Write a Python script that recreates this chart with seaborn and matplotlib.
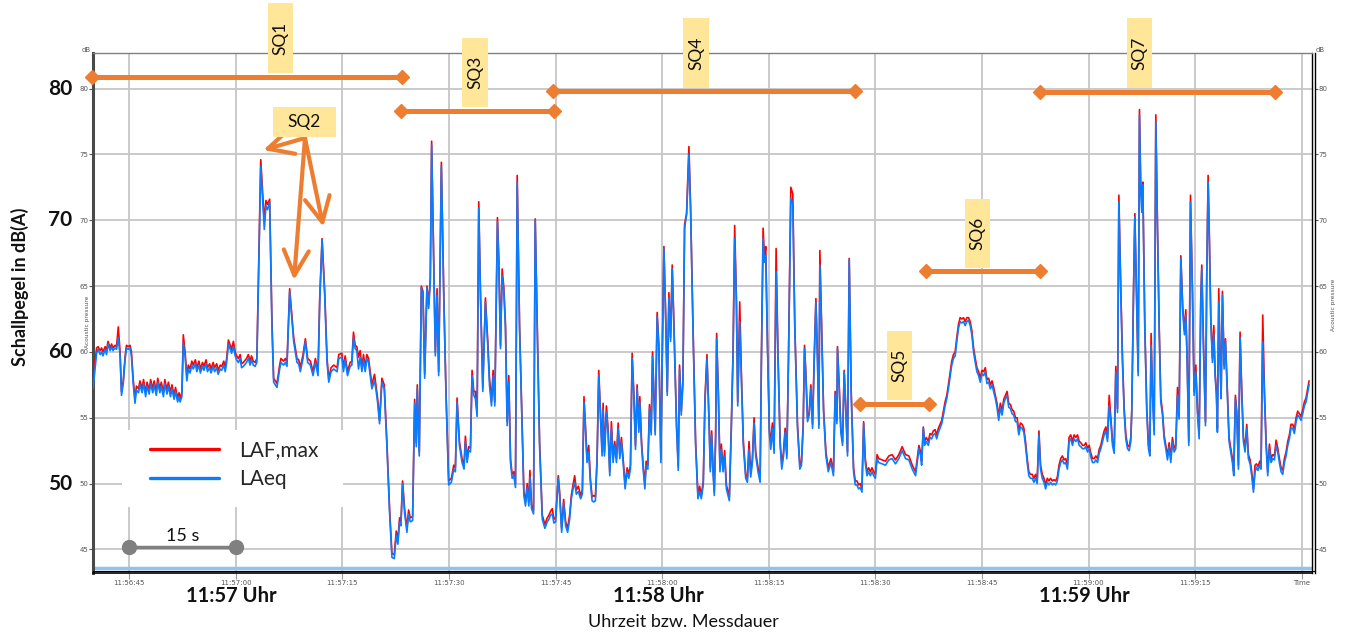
import matplotlib
matplotlib.use("Agg")
import matplotlib.pyplot as plt
import seaborn as sns
import pandas as pd
from matplotlib.lines import Line2D
from matplotlib.patches import Rectangle, FancyArrowPatch

# ---------------- data (seconds after 11:56:45) ----------------
seconds = [
    -5.1, -4.6, -4.4, -4.1, -3.9, -3.7, -3.4, -3.2,
    -3.0, -2.7, -2.5, -2.3, -2.0, -1.8, -1.55, -1.3,
    -1.1, -0.85, -0.6, -0.4, -0.15, 0.1, 0.3, 0.55,
    0.8, 1.0, 1.3, 1.5, 1.8, 2.0, 2.3, 2.5,
    2.8, 3.0, 3.3, 3.5, 3.8, 4.0, 4.3, 4.5,
    4.8, 5.0, 5.3, 5.5, 5.8, 6.0, 6.3, 6.5,
    6.8, 7.0, 7.15, 7.4, 7.6, 7.85, 8.1, 8.3,
    8.55, 8.8, 9.0, 9.3, 9.5, 9.8, 10.0, 10.3,
    10.5, 10.8, 11.0, 11.3, 11.5, 11.8, 12.0, 12.3,
    12.5, 12.8, 13.0, 13.3, 13.5, 13.7, 13.95, 14.2,
    14.4, 14.65, 14.9, 15.1, 15.35, 15.6, 15.8, 16.05,
    16.5, 16.75, 17.0, 17.2, 17.45, 17.7, 17.95, 18.5,
    19.0, 19.23, 19.46, 19.75, 20.07, 20.31, 20.78, 21.16,
    21.34, 21.72, 21.96, 22.19, 22.57, 23.13, 23.6, 23.84,
    24.07, 24.45, 24.78, 25.1, 25.48, 25.86, 26.19, 26.56,
    26.8, 27.13, 27.5, 27.83, 28.07, 28.4, 28.77, 29.24,
    29.48, 29.91, 30.14, 30.38, 30.71, 31.08, 31.32, 31.55,
    31.79, 32.02, 32.26, 32.49, 32.73, 32.96, 33.2, 33.43,
    33.67, 33.9, 34.14, 34.51, 34.7, 34.94, 35.22, 35.55,
    35.88, 36.25, 36.63, 36.96, 37.29, 37.57, 37.8, 38.04,
    38.23, 38.46, 38.74, 39.07, 39.31, 39.54, 39.87, 40.16,
    40.39, 40.53, 40.81, 41.1, 41.33, 41.57, 41.89, 42.13,
    42.36, 42.55, 42.84, 43.07, 43.31, 43.54, 43.92, 44.25,
    44.57, 44.95, 45.33, 45.66, 45.89, 46.13, 46.46, 46.83,
    47.11, 47.3, 47.54, 47.77, 48.01, 48.24, 48.48, 48.71,
    48.95, 49.18, 49.42, 49.75, 50.12, 50.45, 50.69, 50.97,
    51.2, 51.44, 51.81, 52.0, 52.24, 52.47, 52.71, 52.94,
    53.18, 53.41, 53.65, 53.88, 54.12, 54.35, 54.59, 54.92,
    55.29, 55.53, 55.76, 56.0, 56.23, 56.38, 56.61, 56.89,
    57.13, 57.41, 57.74, 58.12, 58.49, 58.82, 59.06, 59.29,
    59.53, 59.76, 60.0, 60.37, 60.56, 60.85, 61.13, 61.41,
    61.69, 61.97, 62.21, 62.45, 62.68, 62.91, 63.2, 63.52,
    63.76, 63.99, 64.19, 64.42, 64.66, 64.89, 65.13, 65.36,
    65.6, 65.83, 66.07, 66.3, 66.54, 66.68, 66.87, 67.15,
    67.38, 67.62, 67.85, 68.09, 68.32, 68.56, 68.8, 69.03,
    69.26, 69.5, 69.78, 70.06, 70.3, 70.53, 70.77, 71.0,
    71.24, 71.47, 71.71, 71.85, 72.09, 72.32, 72.56, 72.74,
    72.98, 73.21, 73.45, 73.64, 73.82, 74.01, 74.29, 74.53,
    74.81, 75.0, 75.24, 75.52, 75.71, 75.94, 76.18, 76.41,
    76.65, 77.02, 77.26, 77.44, 77.68, 77.91, 78.15, 78.43,
    78.76, 79.0, 79.33, 79.7, 80.03, 80.27, 80.5, 80.78,
    81.02, 81.3, 81.58, 81.77, 81.96, 82.15, 82.33, 82.52,
    82.66, 82.9, 83.13, 83.32, 83.56, 83.79, 84.03, 84.26,
    84.45, 84.73, 84.97, 85.2, 85.44, 85.63, 85.91, 86.14,
    86.42, 86.75, 86.99, 87.22, 87.46, 87.69, 87.93, 88.16,
    88.49, 88.78, 88.96, 89.2, 89.39, 89.57, 89.81, 90.09,
    90.28, 90.51, 90.75, 91.03, 91.31, 91.6, 91.83, 92.07,
    92.3, 92.54, 92.77, 93.1, 93.38, 93.66, 94.04, 94.37,
    94.6, 94.84, 95.03, 95.22, 95.45, 95.69, 95.92, 96.16,
    96.39, 96.63, 96.86, 97.05, 97.19, 97.43, 97.71, 98.04,
    98.37, 98.74, 99.1, 99.34, 99.58, 99.67, 99.91, 100.14,
    100.38, 100.61, 100.85, 101.08, 101.32, 101.6, 101.93, 102.17,
    102.41, 102.64, 102.88, 103.11, 103.35, 103.58, 103.82, 104.06,
    104.29, 104.53, 104.76, 105.0, 105.24, 105.47, 105.94, 106.42,
    106.89, 107.36, 107.83, 108.3, 108.77, 109.25, 109.72, 110.19,
    110.66, 111.13, 111.37, 111.51, 111.75, 111.93, 112.17, 112.45,
    112.69, 112.92, 113.16, 113.4, 113.63, 113.87, 114.1, 114.34,
    114.58, 114.81, 115.05, 115.28, 115.52, 115.75, 115.99, 116.23,
    116.46, 116.7, 116.93, 117.17, 117.41, 117.64, 117.88, 118.11,
    118.35, 118.58, 118.82, 119.06, 119.29, 119.53, 119.76, 120.0,
    120.24, 120.47, 120.71, 120.94, 121.18, 121.42, 121.65, 121.89,
    122.12, 122.36, 122.59, 122.83, 123.07, 123.3, 123.54, 123.77,
    124.01, 124.25, 124.48, 124.72, 124.95, 125.19, 125.42, 125.66,
    125.9, 126.13, 126.37, 126.6, 126.84, 127.08, 127.31, 127.55,
    127.78, 128.02, 128.25, 128.49, 128.73, 128.96, 129.2, 129.43,
    129.67, 129.91, 130.14, 130.38, 130.61, 130.85, 131.08, 131.32,
    131.56, 131.79, 132.03, 132.26, 132.5, 132.74, 132.97, 133.21,
    133.45, 133.69, 133.92, 134.16, 134.39, 134.62, 134.86, 135.09,
    135.33, 135.56, 135.8, 136.03, 136.27, 136.5, 136.73, 136.97,
    137.2, 137.44, 137.67, 137.91, 138.14, 138.38, 138.61, 138.84,
    139.08, 139.27, 139.55, 139.78, 140.02, 140.25, 140.49, 140.72,
    140.95, 141.09, 141.33, 141.52, 141.75, 141.99, 142.17, 142.36,
    142.5, 142.64, 142.92, 143.2, 143.44, 143.63, 143.81, 144.0,
    144.24, 144.47, 144.7, 144.94, 145.17, 145.41, 145.64, 145.88,
    146.11, 146.35, 146.58, 146.81, 147.05, 147.28, 147.52, 147.75,
    147.99, 148.27, 148.5, 148.69, 148.88, 149.11, 149.35, 149.63,
    149.86, 150.1, 150.33, 150.57, 150.8, 150.94, 151.17, 151.46,
    151.64, 151.83, 152.02, 152.21, 152.44, 152.63, 152.82, 153.0,
    153.14, 153.33, 153.52, 153.66, 153.85, 154.08, 154.27, 154.55,
    154.78, 155.02, 155.25, 155.44, 155.67, 155.86, 156.1, 156.33,
    156.57, 156.8, 157.03, 157.27, 157.5, 157.74, 157.97, 158.21,
    158.44, 158.63, 158.86, 159.1, 159.28, 159.52, 159.76, 159.99,
    160.22, 160.46, 160.69, 160.93, 161.16, 161.4, 161.63, 161.86,
    162.1, 162.33, 162.57, 162.8, 163.04, 163.27, 163.5, 163.74,
    163.97, 164.21, 164.44, 164.68, 164.91, 165.14, 165.38, 165.61,
    165.85, 166.04,
]

laeq = [
    57.2, 59.9, 60.2, 59.8, 60.0, 59.7, 60.2, 59.8,
    60.6, 60.1, 60.4, 60.1, 60.3, 60.2, 61.1, 59.7,
    56.7, 57.6, 59.4, 60.3, 60.2, 60.3, 59.7, 57.6,
    56.1, 57.1, 56.9, 57.5, 56.9, 57.6, 56.6, 57.4,
    56.8, 57.6, 56.9, 57.5, 56.7, 57.7, 56.9, 57.4,
    56.6, 57.6, 56.8, 57.4, 56.6, 57.2, 56.4, 57.0,
    56.2, 56.6, 56.2, 56.6, 60.7, 59.7, 57.8, 58.7,
    58.4, 59.0, 58.7, 59.1, 58.5, 59.0, 58.4, 58.9,
    58.6, 59.1, 58.5, 58.8, 58.4, 58.9, 58.5, 58.8,
    58.3, 58.7, 58.6, 59.0, 58.5, 59.2, 60.6, 60.2,
    59.9, 60.4, 59.7, 59.4, 59.2, 59.5, 58.8, 58.9,
    59.2, 59.5, 59.0, 59.4, 59.0, 58.9, 59.2, 74.1,
    69.3, 71.1, 70.8, 71.4, 62.0, 57.7, 57.3, 58.7,
    59.2, 59.0, 59.2, 58.9, 64.6, 60.8, 59.2, 59.1,
    58.5, 59.5, 60.8, 59.2, 59.0, 58.2, 59.2, 58.2,
    63.8, 68.5, 64.3, 59.2, 57.7, 58.5, 58.7, 58.5,
    59.5, 59.6, 58.5, 59.4, 58.2, 58.9, 59.0, 61.1,
    60.25, 60.1, 58.7, 59.6, 58.5, 59.4, 58.5, 59.5,
    59.2, 58.2, 57.2, 57.8, 57.2, 56.2, 54.55, 57.7,
    57.2, 52.9, 47.8, 44.4, 44.3, 46.1, 45.4, 47.1,
    46.8, 50.0, 47.8, 46.3, 47.7, 47.1, 47.2, 56.1,
    52.8, 57.2, 52.1, 64.9, 64.3, 58.0, 64.9, 63.3,
    65.3, 75.7, 66.8, 59.7, 64.3, 58.2, 74.1, 64.3,
    56.7, 49.9, 50.1, 51.1, 50.9, 56.2, 52.9, 51.6,
    51.1, 53.2, 51.6, 52.5, 52.4, 58.2, 56.7, 56.45,
    55.1, 70.9, 64.3, 57.0, 63.8, 60.5, 57.5, 55.9,
    58.2, 55.9, 69.9, 66.8, 60.25, 65.8, 64.6, 61.8,
    54.4, 57.7, 51.6, 50.4, 50.6, 49.7, 72.9, 61.8,
    54.2, 49.1, 48.3, 49.7, 48.3, 50.5, 48.1, 47.7,
    70.0, 61.8, 52.9, 47.3, 46.6, 47.1, 47.3, 47.6,
    47.7, 47.0, 47.1, 50.4, 49.1, 46.3, 48.5, 46.8,
    46.3, 47.3, 48.85, 49.6, 50.1, 49.2, 49.4, 48.85,
    49.2, 56.2, 54.2, 51.6, 52.4, 50.1, 48.7, 48.6,
    48.7, 51.6, 58.2, 55.2, 52.1, 55.6, 52.1, 55.4,
    53.9, 50.6, 54.2, 51.6, 52.9, 51.6, 54.2, 51.9,
    53.2, 51.6, 49.6, 50.9, 50.4, 51.1, 59.5, 56.7,
    52.6, 57.2, 53.9, 56.2, 52.9, 51.1, 49.6, 51.4,
    51.1, 55.7, 53.7, 59.7, 56.7, 53.7, 62.7, 60.25,
    51.6, 59.2, 67.85, 61.8, 56.7, 64.1, 60.8, 66.3,
    61.8, 54.2, 51.0, 58.7, 55.2, 57.5, 69.4, 70.4,
    75.0, 70.6, 61.8, 52.9, 48.85, 49.4, 48.85, 49.9,
    56.2, 59.5, 54.8, 50.9, 53.7, 50.9, 49.1, 53.4,
    61.0, 56.7, 50.9, 52.6, 50.9, 52.1, 49.6, 49.1,
    48.7, 54.2, 59.7, 68.6, 63.8, 55.9, 62.3, 58.1,
    52.9, 50.4, 50.1, 52.6, 50.5, 51.6, 54.6, 52.1,
    50.9, 50.1, 59.2, 68.6, 66.8, 67.3, 60.5, 53.7,
    52.6, 54.2, 52.3, 66.1, 59.2, 52.9, 51.1, 52.1,
    53.9, 51.9, 59.2, 71.65, 71.2, 61.8, 54.2, 51.1,
    51.4, 54.2, 60.25, 58.1, 54.7, 55.2, 57.2, 54.2,
    59.2, 63.8, 59.2, 54.2, 66.6, 61.8, 55.4, 52.1,
    50.9, 51.6, 50.6, 56.8, 54.55, 60.25, 57.2, 53.9,
    52.9, 58.5, 55.4, 52.1, 67.0, 56.7, 50.9, 49.9,
    49.9, 49.6, 49.7, 49.35, 54.55, 51.6, 50.6, 50.9,
    50.6, 50.9, 50.6, 50.4, 51.9, 51.6, 51.5, 51.4,
    51.8, 51.9, 51.5, 51.9, 52.5, 51.9, 51.8, 51.1,
    50.6, 52.65, 52.1, 51.4, 54.2, 52.9, 53.2, 52.9,
    53.5, 53.4, 53.7, 53.8, 53.4, 53.9, 54.2, 54.55,
    55.2, 55.9, 56.45, 57.2, 58.1, 59.0, 59.5, 59.7,
    60.8, 61.8, 62.3, 62.2, 62.3, 62.0, 62.3, 62.4,
    62.0, 61.3, 60.0, 59.2, 58.5, 58.2, 57.7, 58.35,
    58.2, 58.5, 57.6, 57.7, 57.2, 57.5, 57.0, 56.45,
    55.8, 54.8, 55.8, 55.2, 56.1, 56.45, 56.7, 55.8,
    55.7, 55.3, 55.2, 54.7, 54.7, 53.7, 54.3, 54.2,
    53.9, 52.9, 51.6, 50.6, 50.4, 50.4, 50.1, 50.4,
    50.0, 53.7, 51.1, 50.4, 50.1, 49.6, 50.1, 49.9,
    50.1, 49.9, 50.0, 49.9, 50.2, 51.1, 51.6, 51.8,
    51.5, 51.6, 51.1, 53.2, 53.4, 52.9, 53.4, 53.2,
    53.4, 52.9, 52.8, 52.65, 52.65, 52.8, 52.4, 52.65,
    52.0, 51.6, 51.6, 51.8, 51.6, 52.3, 52.65, 53.2,
    53.7, 54.0, 53.2, 55.9, 54.7, 52.9, 52.3, 58.5,
    55.4, 71.4, 64.3, 59.2, 55.4, 53.4, 52.65, 52.5,
    53.2, 55.4, 64.3, 70.25, 64.3, 58.2, 78.0, 71.9,
    70.6, 72.7, 61.8, 55.4, 52.65, 52.1, 60.5, 56.7,
    53.7, 77.5, 69.4, 61.8, 56.2, 55.2, 53.4, 52.65,
    51.8, 52.8, 51.6, 53.2, 52.4, 52.65, 56.7, 54.9,
    67.1, 63.0, 61.3, 62.8, 59.2, 52.9, 71.4, 64.3,
    56.7, 58.5, 55.4, 53.4, 63.8, 66.3, 60.5, 54.4,
    65.6, 72.9, 68.1, 62.3, 59.2, 61.3, 58.1, 56.7,
    53.9, 63.8, 59.2, 56.45, 64.3, 58.7, 60.8, 56.7,
    53.2, 52.4, 51.6, 50.6, 56.45, 55.2, 51.1, 61.1,
    56.7, 53.2, 52.4, 54.2, 51.9, 51.5, 50.6, 49.35,
    50.9, 51.25, 51.0, 51.4, 51.1, 60.75, 56.7, 52.9,
    50.6, 52.65, 51.6, 51.9, 51.8, 52.9, 52.4, 51.6,
    50.9, 50.7, 51.6, 52.1, 52.9, 53.4, 54.2, 54.2,
    53.8, 54.7, 55.2, 55.05, 54.8, 55.3, 55.9, 56.2,
    56.95, 57.5,
]

lafmax = [
    57.9, 60.3, 60.4, 60.1, 60.3, 60.0, 60.4, 60.1,
    60.8, 60.3, 60.6, 60.3, 60.5, 60.4, 61.9, 60.0,
    57.0, 57.8, 59.6, 60.5, 60.4, 60.5, 60.0, 57.9,
    56.4, 57.4, 57.2, 57.8, 57.2, 57.9, 56.9, 57.7,
    57.1, 57.9, 57.2, 57.8, 57.0, 58.0, 57.2, 57.7,
    56.9, 57.9, 57.1, 57.7, 56.9, 57.5, 56.7, 57.3,
    56.5, 56.9, 56.5, 56.9, 61.3, 60.0, 58.1, 59.0,
    58.7, 59.3, 59.0, 59.4, 58.8, 59.3, 58.7, 59.2,
    58.9, 59.4, 58.8, 59.1, 58.7, 59.2, 58.8, 59.1,
    58.6, 59.0, 58.9, 59.3, 58.8, 59.5, 60.9, 60.5,
    60.2, 60.8, 60.0, 59.7, 59.5, 59.8, 59.1, 59.2,
    59.5, 59.8, 59.3, 59.7, 59.3, 59.2, 59.5, 74.6,
    69.9, 71.5, 71.2, 71.6, 62.5, 58.0, 57.6, 59.0,
    59.5, 59.3, 59.5, 59.2, 64.8, 61.1, 59.5, 59.4,
    58.8, 59.8, 61.0, 59.5, 59.3, 58.5, 59.5, 58.5,
    64.1, 68.6, 64.6, 59.5, 58.0, 58.8, 59.0, 58.8,
    59.8, 59.9, 58.8, 59.7, 58.5, 59.2, 59.3, 61.5,
    60.5, 60.4, 59.6, 60.1, 58.8, 59.8, 58.8, 59.8,
    59.5, 58.5, 57.5, 58.3, 57.5, 56.5, 54.8, 58.0,
    57.5, 53.2, 48.1, 44.7, 44.6, 46.4, 45.7, 47.4,
    47.1, 50.2, 48.1, 46.6, 48.0, 47.4, 47.5, 56.4,
    53.1, 57.5, 52.4, 65.0, 64.6, 58.3, 65.0, 63.6,
    65.6, 76.0, 67.1, 60.0, 64.8, 58.5, 74.4, 64.6,
    57.0, 50.2, 50.4, 51.4, 51.2, 56.5, 53.2, 51.9,
    51.4, 53.6, 51.9, 52.8, 52.7, 58.6, 57.0, 57.0,
    55.4, 71.4, 64.6, 57.3, 64.1, 60.8, 58.0, 56.2,
    58.6, 56.2, 70.2, 67.1, 60.5, 66.3, 64.9, 62.1,
    54.7, 58.2, 51.9, 50.7, 50.9, 50.0, 73.4, 62.1,
    54.5, 49.4, 48.6, 50.0, 48.6, 51.0, 48.4, 48.0,
    70.1, 62.1, 53.2, 47.6, 46.9, 47.4, 47.6, 47.9,
    48.1, 47.3, 47.4, 50.6, 49.4, 46.6, 48.8, 47.1,
    46.6, 47.6, 49.1, 49.9, 50.6, 49.5, 49.8, 49.1,
    49.5, 56.6, 54.5, 51.9, 52.9, 50.4, 49.0, 49.1,
    49.0, 51.9, 58.6, 55.5, 52.4, 56.1, 52.4, 55.9,
    54.2, 50.9, 54.7, 51.9, 53.2, 51.9, 54.6, 52.2,
    53.5, 51.9, 49.9, 51.2, 50.7, 51.4, 59.9, 57.0,
    52.9, 57.5, 54.2, 56.6, 53.2, 51.4, 49.9, 51.7,
    51.4, 56.0, 54.0, 60.0, 57.0, 54.0, 63.0, 60.5,
    51.9, 59.5, 68.0, 62.1, 57.0, 64.5, 61.1, 66.6,
    62.1, 54.5, 51.3, 59.0, 55.5, 57.8, 69.7, 70.5,
    75.6, 70.9, 62.1, 53.2, 49.1, 49.8, 49.1, 50.2,
    56.5, 59.8, 55.1, 51.2, 54.0, 51.2, 49.4, 53.7,
    61.4, 57.0, 51.2, 53.0, 51.2, 52.5, 49.9, 49.4,
    49.0, 54.5, 60.0, 69.6, 64.1, 56.2, 63.8, 58.4,
    53.2, 50.7, 50.4, 53.2, 50.8, 51.9, 55.0, 52.4,
    51.2, 50.4, 59.5, 69.4, 67.1, 68.0, 60.8, 54.0,
    53.2, 54.6, 52.6, 67.85, 59.5, 53.2, 51.4, 52.4,
    54.2, 52.2, 59.5, 72.5, 72.0, 62.1, 54.5, 51.4,
    51.7, 54.5, 60.5, 58.4, 55.0, 55.4, 57.5, 54.5,
    59.5, 64.05, 59.5, 54.5, 67.7, 62.1, 55.7, 52.4,
    51.2, 51.9, 50.9, 57.0, 54.8, 60.4, 57.5, 54.2,
    53.2, 58.6, 55.7, 52.4, 67.1, 57.0, 51.2, 50.2,
    50.2, 49.9, 50.0, 49.6, 54.7, 51.9, 50.9, 51.2,
    50.9, 51.2, 50.9, 50.7, 52.2, 51.9, 51.8, 51.7,
    52.1, 52.2, 51.8, 52.2, 52.8, 52.2, 52.1, 51.4,
    50.9, 52.9, 52.4, 51.7, 54.3, 53.2, 53.5, 53.2,
    53.8, 53.7, 54.0, 54.1, 53.7, 54.2, 54.5, 54.8,
    55.5, 56.2, 56.7, 57.5, 58.4, 59.3, 59.8, 60.0,
    61.1, 62.1, 62.6, 62.5, 62.6, 62.3, 62.6, 62.6,
    62.3, 61.6, 60.3, 59.5, 58.8, 58.5, 58.0, 58.6,
    58.5, 58.8, 57.9, 58.0, 57.5, 57.8, 57.3, 56.7,
    56.1, 55.1, 56.1, 55.5, 56.4, 56.7, 57.0, 56.1,
    56.0, 55.6, 55.5, 55.0, 55.0, 54.0, 54.6, 54.5,
    54.2, 53.2, 51.9, 50.9, 50.7, 50.7, 50.4, 50.7,
    50.3, 54.0, 51.4, 50.7, 50.4, 49.9, 50.4, 50.2,
    50.4, 50.2, 50.3, 50.2, 50.5, 51.4, 51.9, 52.1,
    51.8, 51.9, 51.4, 53.5, 53.7, 53.2, 53.7, 53.5,
    53.7, 53.2, 53.1, 52.9, 52.9, 53.1, 52.7, 52.9,
    52.3, 51.9, 51.9, 52.1, 51.9, 52.6, 52.9, 53.5,
    54.0, 54.3, 53.5, 56.7, 55.0, 53.2, 52.6, 58.9,
    55.7, 71.9, 64.6, 59.5, 55.7, 53.7, 52.9, 52.8,
    53.5, 55.7, 64.6, 70.5, 64.6, 58.5, 78.4, 72.2,
    72.0, 72.9, 62.1, 55.7, 52.9, 52.4, 61.4, 57.0,
    54.0, 78.0, 69.7, 62.1, 56.5, 55.5, 53.7, 52.9,
    52.1, 53.1, 51.9, 53.5, 52.7, 52.9, 57.3, 55.2,
    67.3, 63.3, 61.6, 63.2, 59.5, 53.2, 71.9, 64.6,
    57.0, 59.0, 55.7, 53.7, 64.1, 66.6, 60.8, 54.7,
    65.9, 73.4, 68.4, 62.6, 59.5, 62.0, 58.4, 57.0,
    54.2, 64.8, 59.5, 56.7, 64.6, 59.0, 61.0, 57.0,
    53.5, 52.7, 51.9, 50.9, 56.7, 55.5, 51.4, 61.5,
    57.0, 53.5, 52.7, 54.5, 52.2, 51.8, 50.9, 49.6,
    51.4, 51.5, 51.3, 51.7, 51.4, 62.8, 57.0, 53.2,
    50.9, 53.0, 51.9, 52.2, 52.1, 53.3, 52.7, 51.9,
    51.2, 51.0, 51.9, 52.4, 53.2, 53.7, 54.5, 54.5,
    54.1, 55.0, 55.5, 55.3, 55.1, 55.6, 56.2, 56.5,
    57.2, 57.8,
]

tick_seconds = [0, 15, 30, 45, 60, 75, 90, 105, 120, 135, 150, 165]
tick_labels = ["11:56:45", "11:57:00", "11:57:15", "11:57:30", "11:57:45",
               "11:58:00", "11:58:15", "11:58:30", "11:58:45", "11:59:00",
               "11:59:15", "Time"]
minute_seconds = [15, 75, 135]
minute_labels = ["11:57 Uhr", "11:58 Uhr", "11:59 Uhr"]
level_ticks = [45, 50, 55, 60, 65, 70, 75, 80]
big_levels = [50, 60, 70, 80]

sq_start = [-5.3, 38.3, 59.6, 102.8, 112.1, 128.2]
sq_end = [38.4, 59.8, 102.2, 112.5, 128.2, 161.3]
sq_level = [80.87, 78.29, 79.81, 56.03, 66.13, 79.73]

assert len(seconds) == len(laeq) == len(lafmax), (len(seconds), len(laeq), len(lafmax))

# ---------------- styling ----------------
sns.set_theme(style="white")
plt.rcParams['font.family'] = ['Lato', 'DejaVu Sans']

W, H = 1346, 634
fig = plt.figure(figsize=(W / 100, H / 100), dpi=100)
L, R, T, B = 93, 1311.7, 52.7, 572.5
ax = fig.add_axes([L / W, 1 - B / H, (R - L) / W, (B - T) / H])

RED = '#ff0000'
BLUE = '#0a7cff'
ORANGE = '#ed7d31'

df = pd.DataFrame({'Sekunden': seconds, 'LAF,max': lafmax, 'LAeq': laeq})
sns.lineplot(data=df, x='Sekunden', y='LAF,max', color=RED, lw=1.2, ax=ax, zorder=3)
sns.lineplot(data=df, x='Sekunden', y='LAeq', color=BLUE, lw=1.2, ax=ax, zorder=4)
ax.set_xlabel('')
ax.set_ylabel('')

ax.set_xlim(-5.11, 166.41)
ax.set_ylim(43.25, 82.72)
ax.set_xticks(tick_seconds)
ax.set_xticklabels(tick_labels)
ax.set_yticks(level_ticks)
ax.set_yticklabels([str(v) for v in level_ticks])
ax.grid(True, color='#c6c6c6', lw=1.3)
ax.set_axisbelow(True)
ax.tick_params(axis='x', direction='out', length=4, width=0.8, color='#999999',
               pad=1.5, labelsize=5, labelcolor='#555555', bottom=True)
ax.tick_params(axis='y', direction='out', length=3, width=0.8, color='#555555',
               pad=0.5, labelsize=5, labelcolor='#555555', left=True)
for lbl in ax.get_xticklabels() + ax.get_yticklabels():
    lbl.set_fontfamily('DejaVu Sans')

ax.spines['left'].set(color='#4a4a4a', lw=2.2)
ax.spines['top'].set(color='#808080', lw=1.0)
ax.spines['right'].set(color='black', lw=1.0)
ax.spines['bottom'].set(color='black', lw=1.2)
for s in ax.spines.values():
    s.set_visible(True)

# light blue range bar and second bottom line
ax.axhline(43.62, color='#8cc4f5', lw=2.5, zorder=2)
fig.add_artist(Line2D([L / W, (R + 3) / W], [1 - (B - 2) / H] * 2, color='black', lw=0.8))

# right axis
ax2 = ax.twinx()
ax2.set_ylim(ax.get_ylim())
ax2.set_yticks(level_ticks)
ax2.set_yticklabels([str(v) for v in level_ticks])
ax2.grid(False)
for k, s in ax2.spines.items():
    s.set_visible(k == 'right')
ax2.spines['right'].set_position(('outward', 2.3))
ax2.spines['right'].set(color='black', lw=1.0)
ax2.tick_params(axis='y', direction='out', length=2, width=0.8, color='#555555',
                pad=0.5, labelsize=5, labelcolor='#555555')
for lbl in ax2.get_yticklabels():
    lbl.set_fontfamily('DejaVu Sans')

# small axis captions
fig.text(86.5 / W, 1 - 50 / H, 'dB', fontsize=5, ha='center', va='center', color='#555555', family='DejaVu Sans')
fig.text(1320 / W, 1 - 50 / H, 'dB', fontsize=5, ha='center', va='center', color='#555555', family='DejaVu Sans')
fig.text(1333 / W, 1 - 305 / H, 'Acoustic pressure', fontsize=4.2, rotation=90, ha='center', va='center',
         color='#555555', family='DejaVu Sans')
fig.text(88 / W, 1 - 322 / H, 'Acoustic pressure', fontsize=4.2, rotation=90, ha='center', va='center',
         color='#555555', family='DejaVu Sans')

# big level labels
ytr = ax.get_yaxis_transform()
for v in big_levels:
    ax.text((60 - L) / (R - L), v, str(v), transform=ytr, ha='center', va='center',
            fontsize=15, fontweight='bold', color='#111111')
fig.text(20 / W, 1 - 287 / H, 'Schallpegel in dB(A)', rotation=90, ha='center', va='center',
         fontsize=13, fontweight='bold', color='#111111')

# minute labels and x label
xtr = ax.get_xaxis_transform()
for s, lab in zip(minute_seconds, minute_labels):
    ax.text(s - 0.6, -(595.5 - B) / (B - T), lab, transform=xtr, ha='center', va='center',
            fontsize=14.5, fontweight='bold', color='#111111')
fig.text(683 / W, 1 - 622 / H, 'Uhrzeit bzw. Messdauer', ha='center', va='center',
         fontsize=13, color='#111111')

# legend on white patch
ax.add_patch(Rectangle(((122 - L) / (R - L), (B - 507) / (B - T)), (343 - 122) / (R - L), (507 - 430) / (B - T),
                       transform=ax.transAxes, facecolor='white', edgecolor='none', zorder=4.5))
handles = [Line2D([], [], color=RED, lw=2.4), Line2D([], [], color=BLUE, lw=2.4)]
leg = ax.legend(handles, ['LAF,max', 'LAeq'], loc='upper left',
                bbox_to_anchor=((150 - L) / (R - L), (B - 440) / (B - T)),
                frameon=False, fontsize=15, handlelength=3.3, handletextpad=1.0,
                labelspacing=0.45, borderpad=0, borderaxespad=0)
leg.set_zorder(6)

# 15 s scale bar
ax.plot([0, 15], [45.15, 45.15], color='#808080', lw=2.5, marker='o', ms=10, zorder=6,
        solid_capstyle='butt')
ax.text(7.5, 46.05, '15 s', ha='center', va='center', fontsize=13, color='#111111', zorder=6)

# SQ ranges
for s, e, lvl in zip(sq_start, sq_end, sq_level):
    ax.plot([s, e], [lvl, lvl], color=ORANGE, lw=3.6, marker='D', ms=7.5, clip_on=False,
            zorder=8, solid_capstyle='butt')

# SQ label boxes (pixel geometry)
def label_box(x0, y0, x1, y1, text, rot):
    fig.add_artist(Rectangle((x0 / W, 1 - y1 / H), (x1 - x0) / W, (y1 - y0) / H,
                             transform=fig.transFigure, facecolor='#ffe699', edgecolor='none', zorder=10))
    fig.text((x0 + x1) / 2 / W, 1 - (y0 + y1) / 2 / H, text, rotation=rot, ha='center', va='center',
             fontsize=12.5, color='#111111', zorder=11)

label_box(268, 3, 293, 73, 'SQ1', 90)
label_box(273, 107, 336, 137, 'SQ2', 0)
label_box(462, 38, 488, 107, 'SQ3', 90)
label_box(683, 18, 709, 88, 'SQ4', 90)
label_box(887, 331, 912, 400, 'SQ5', 90)
label_box(965, 199, 990, 268, 'SQ6', 90)
label_box(1127, 18, 1152, 88, 'SQ7', 90)

# SQ2 arrows
for tx, ty in [(263.3, 150), (294, 280), (323.3, 226.7)]:
    fig.add_artist(FancyArrowPatch(posA=(305 / W, 1 - 138 / H), posB=(tx / W, 1 - ty / H),
                                   transform=fig.transFigure,
                                   arrowstyle='->,head_length=0.9,head_width=0.45',
                                   mutation_scale=20, color=ORANGE, lw=3, zorder=9,
                                   shrinkA=0, shrinkB=0))

fig.savefig('out.png', dpi=100)
